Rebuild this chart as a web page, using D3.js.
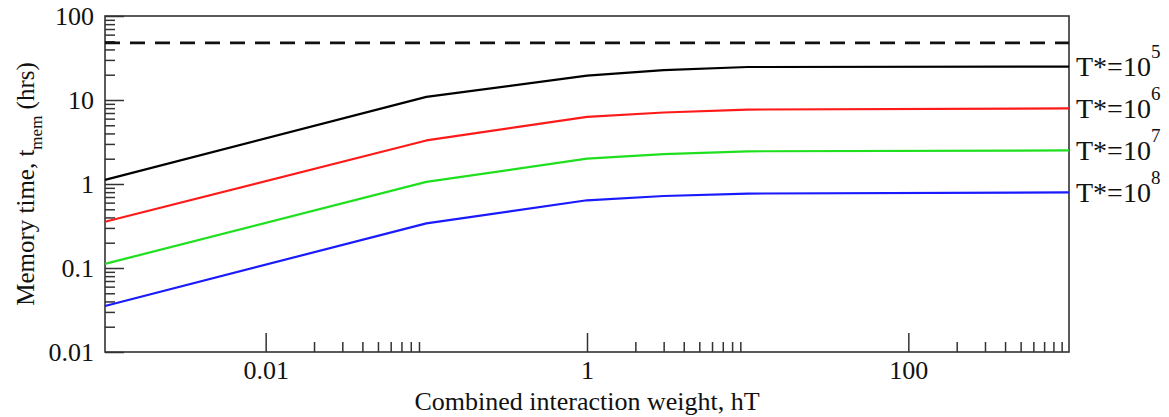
<!DOCTYPE html>
<html>
<head>
<meta charset="utf-8">
<script src="https://cdn.jsdelivr.net/npm/d3@7"></script>
<style>
  body { margin: 0; background: #fff; }
  text { font-family: "Liberation Serif", "Times New Roman", serif; fill: #111; }
</style>
</head>
<body>
<div class="chart"></div>
<script>
// hT values where each curve was read
const hT = [0.001, 0.1, 1, 3, 10, 1000];
const seriesNames = ["5", "6", "7", "8"]; // exponent of T*
const memT5 = [1.12, 10.9, 19.5, 22.7, 24.7, 25];
const memT6 = [0.355, 3.3, 6.3, 7.1, 7.7, 7.95];
const memT7 = [0.112, 1.06, 2.0, 2.27, 2.45, 2.51];
const memT8 = [0.0353, 0.34, 0.64, 0.72, 0.77, 0.795];
const dashedLevel = 48;
const xTicks = [0.01, 1, 100];
const yTicks = [0.01, 0.1, 1, 10, 100];
const minorFactors = [2, 3, 4, 5, 6, 7, 8, 9];

const colors = ["#000000", "#ff1a1a", "#1ee01e", "#1a1aff"];
const allSeries = [memT5, memT6, memT7, memT8];

const totalWidth = 1169,
  totalHeight = 417;
const margin = { top: 16, left: 105, right: 100, bottom: 65 };
const width = totalWidth - margin.left - margin.right,
  height = totalHeight - margin.top - margin.bottom;

const svg = d3
  .select(".chart")
  .append("svg")
  .attr("width", totalWidth)
  .attr("height", totalHeight);

const g = svg
  .append("g")
  .attr("transform", `translate(${margin.left}, ${margin.top})`);

const xScale = d3.scaleLog().domain([0.001, 1000]).range([0, width]);
const yScale = d3.scaleLog().domain([0.01, 100]).range([height, 0]);

const xMinor = xTicks.flatMap((m) => minorFactors.map((k) => k * m));
const yMinor = yTicks.slice(0, -1).flatMap((m) => minorFactors.map((k) => k * m));
const fmt = d3.format("~g");

// minor ticks first
g.append("g")
  .attr("transform", `translate(0, ${height})`)
  .call(d3.axisBottom(xScale).tickValues(xMinor).tickSizeInner(-10).tickSizeOuter(0).tickFormat(""))
  .call((a) => a.select(".domain").remove());
g.append("g")
  .call(d3.axisLeft(yScale).tickValues(yMinor).tickSizeInner(-10).tickSizeOuter(0).tickFormat(""))
  .call((a) => a.select(".domain").remove());

const xAxisGroup = g
  .append("g")
  .attr("class", "x-axis")
  .attr("transform", `translate(0, ${height})`)
  .call(d3.axisBottom(xScale).tickValues(xTicks).tickSizeInner(-19).tickSizeOuter(0).tickPadding(9).tickFormat(fmt));

const yAxisGroup = g
  .append("g")
  .attr("class", "y-axis")
  .call(d3.axisLeft(yScale).tickValues(yTicks).tickSizeInner(-19).tickSizeOuter(0).tickPadding(11).tickFormat(fmt));

g.selectAll(".tick line").attr("stroke", "#333").attr("stroke-width", 1.5);
g.selectAll(".tick text").attr("font-size", 26).attr("fill", "#111");
g.selectAll(".domain").remove();

// frame
g.append("rect")
  .attr("x", 0)
  .attr("y", 0)
  .attr("width", width)
  .attr("height", height)
  .attr("fill", "none")
  .attr("stroke", "#333")
  .attr("stroke-width", 1.6);

// dashed reference level
g.append("line")
  .attr("x1", 0)
  .attr("x2", width)
  .attr("y1", yScale(dashedLevel))
  .attr("y2", yScale(dashedLevel))
  .attr("stroke", "#111")
  .attr("stroke-width", 2.8)
  .attr("stroke-dasharray", "15,10");

const line = d3
  .line()
  .x((d, i) => xScale(hT[i]))
  .y((d) => yScale(d));

allSeries.forEach((vals, i) => {
  g.append("path")
    .datum(vals)
    .attr("fill", "none")
    .attr("stroke", colors[i])
    .attr("stroke-width", 2.2)
    .attr("stroke-linejoin", "round")
    .attr("d", line);

  const t = g
    .append("text")
    .attr("x", width + 7)
    .attr("y", yScale(vals[vals.length - 1]))
    .attr("dy", "0.35em")
    .attr("font-size", 28);
  t.append("tspan").text("T*=10");
  t.append("tspan")
    .attr("font-size", 19)
    .attr("dy", "-0.95em")
    .text(seriesNames[i]);
});

// axis titles
svg
  .append("text")
  .attr("x", margin.left + xScale(1))
  .attr("y", 410)
  .attr("text-anchor", "middle")
  .attr("font-size", 26)
  .text("Combined interaction weight, hT");

const yTitle = svg
  .append("text")
  .attr("transform", `translate(34, ${margin.top + yScale(1)}) rotate(-90)`)
  .attr("text-anchor", "middle")
  .attr("font-size", 25);
yTitle.append("tspan").text("Memory time, t");
yTitle.append("tspan").attr("font-size", 17).attr("dy", "0.45em").text("mem");
yTitle.append("tspan").attr("dy", "-0.3em").text(" (hrs)");
</script>
</body>
</html>
